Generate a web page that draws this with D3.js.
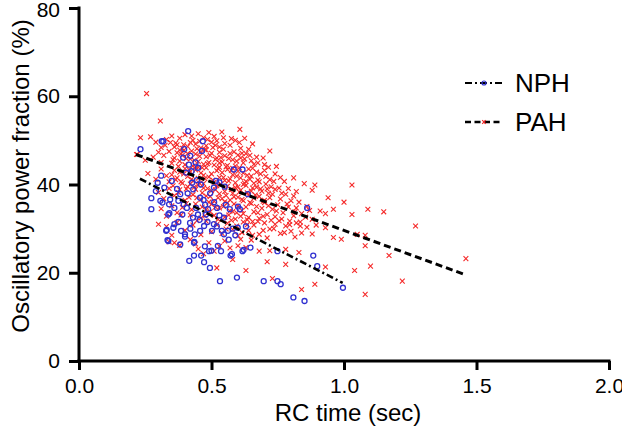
<!DOCTYPE html>
<html><head><meta charset="utf-8">
<script src="https://cdn.jsdelivr.net/npm/d3@7"></script>
<style>body{margin:0;background:#fff}svg{display:block}text{font-family:"Liberation Sans",Arial,sans-serif}</style>
</head><body><div id="chart"></div>
<script>
const xTicks=[0,0.5,1.0,1.5,2.0];
const yTicks=[0,20,40,60,80];
const seriesNames=["NPH","PAH"];
const nphFit=[[0.23,41.3],[0.995,17.7]];
const pahFit=[[0.215,46.8],[1.46,19.5]];
const nphPoints=[[0.232,48.0],[0.312,49.8],[0.318,49.8],[0.412,52.1],[0.273,36.9],[0.273,34.4],[0.297,40.4],[0.307,36.3],[0.315,35.9],[0.322,39.3],[0.329,29.5],[0.337,27.2],[0.334,27.4],[0.337,33.2],[0.344,36.6],[0.356,30.2],[0.36,34.7],[0.375,36.3],[0.382,37.8],[0.382,26.4],[0.39,33.2],[0.393,46.1],[0.397,48.0],[0.40,28.7],[0.404,42.7],[0.407,34.7],[0.416,22.7],[0.419,31.3],[0.427,40.4],[0.431,38.9],[0.434,23.9],[0.434,26.8],[0.437,28.7],[0.442,34.7],[0.449,33.2],[0.449,43.8],[0.457,37.0],[0.457,29.5],[0.461,23.9],[0.464,47.6],[0.467,49.8],[0.472,22.4],[0.472,30.6],[0.476,35.4],[0.479,33.2],[0.487,34.4],[0.491,24.9],[0.494,21.1],[0.502,29.5],[0.509,39.3],[0.509,31.0],[0.517,40.8],[0.521,34.7],[0.524,26.1],[0.532,18.1],[0.536,24.9],[0.539,29.5],[0.547,28.7],[0.547,32.5],[0.554,35.4],[0.562,29.5],[0.569,34.4],[0.572,23.9],[0.584,43.4],[0.596,18.9],[0.599,30.2],[0.607,34.4],[0.617,43.4],[0.617,24.9],[0.637,37.8],[0.647,25.7],[0.697,18.1],[0.749,18.1],[0.761,17.4],[0.749,24.9],[0.809,14.4],[0.851,13.6],[0.861,34.7],[0.884,23.9],[0.899,21.5],[0.996,16.6],[0.341,33.5],[0.331,29.7],[0.435,27.0],[0.40,28.2],[0.577,24.2],[0.621,25.2],[0.36,31.0],[0.375,31.5],[0.395,35.5],[0.41,38.0],[0.415,44.5],[0.42,46.5],[0.445,41.0],[0.455,32.0],[0.47,36.5],[0.485,31.5],[0.495,38.0],[0.51,36.0],[0.52,30.5],[0.53,33.0],[0.55,39.5],[0.565,27.5],[0.58,30.0],[0.59,28.5],[0.37,39.0],[0.385,29.5],[0.43,32.5],[0.46,40.0],[0.475,26.0],[0.53,40.5],[0.35,40.8],[0.31,42.0],[0.29,38.5],[0.425,43.0],[0.44,45.0],[0.6,35.0],[0.63,30.5],[0.5,25.0],[0.42,30.0],[0.34,35.5]];
const pahPoints=[[0.27,50.8],[0.29,49.6],[0.31,48.4],[0.33,50.2],[0.35,51.0],[0.37,49.0],[0.38,50.5],[0.40,51.3],[0.41,48.6],[0.43,50.0],[0.44,49.2],[0.45,51.5],[0.47,50.6],[0.48,48.8],[0.50,49.6],[0.51,50.9],[0.53,48.5],[0.55,49.3],[0.57,48.9],[0.59,50.0],[0.61,48.2],[0.64,48.0],[0.36,48.5],[0.42,49.5],[0.46,48.3],[0.52,49.9],[0.49,51.8],[0.39,48.2],
[0.22,46.8],[0.25,45.5],[0.28,46.2],[0.30,47.3],[0.31,45.0],[0.32,46.6],[0.34,47.5],[0.35,44.8],[0.36,46.0],[0.37,47.2],[0.38,45.3],[0.39,46.6],[0.40,44.5],[0.41,47.0],[0.42,45.8],[0.43,44.2],[0.44,46.9],[0.45,45.2],[0.46,47.4],[0.47,44.6],[0.48,46.3],[0.49,45.0],[0.50,47.1],[0.51,44.4],[0.52,46.0],[0.53,47.3],[0.54,45.1],[0.55,46.5],[0.56,44.3],[0.57,47.0],[0.58,45.6],[0.60,46.7],[0.62,44.9],[0.63,47.0],[0.65,45.4],[0.67,46.2],[0.70,44.5],[0.72,47.6],[0.38,47.8],[0.44,44.0],[0.48,47.8],[0.53,44.9],[0.59,44.2],[0.61,46.0],[0.66,44.6],
[0.26,42.5],[0.29,41.2],[0.31,43.5],[0.33,42.0],[0.34,40.6],[0.36,43.2],[0.37,41.5],[0.38,42.8],[0.39,40.3],[0.40,43.6],[0.41,41.8],[0.42,42.9],[0.43,40.8],[0.44,43.3],[0.45,41.4],[0.46,42.6],[0.47,40.2],[0.48,43.8],[0.49,41.7],[0.50,42.4],[0.51,40.5],[0.52,43.1],[0.53,41.6],[0.54,42.7],[0.55,40.9],[0.56,43.4],[0.57,41.3],[0.58,42.2],[0.59,40.4],[0.60,43.0],[0.61,41.5],[0.62,42.6],[0.63,40.7],[0.64,43.5],[0.65,41.9],[0.67,42.8],[0.68,40.6],[0.70,43.2],[0.72,41.1],[0.74,42.4],[0.76,41.6],[0.81,41.5],[0.42,40.1],[0.47,42.1],[0.53,43.9],[0.58,43.7],[0.62,40.0],[0.66,40.3],[0.45,43.9],[0.35,42.2],
[0.30,38.2],[0.32,36.8],[0.34,39.1],[0.36,37.5],[0.38,38.8],[0.40,36.4],[0.41,39.5],[0.43,37.7],[0.44,38.9],[0.46,36.6],[0.47,39.2],[0.48,37.4],[0.50,38.6],[0.51,36.2],[0.52,39.7],[0.53,37.9],[0.54,36.8],[0.55,38.4],[0.56,39.6],[0.57,36.5],[0.58,38.0],[0.59,39.3],[0.60,37.1],[0.61,38.7],[0.62,36.3],[0.63,39.8],[0.64,37.6],[0.65,38.5],[0.66,36.9],[0.67,39.4],[0.68,37.3],[0.69,38.5],[0.70,36.4],[0.71,39.0],[0.73,37.8],[0.74,38.9],[0.76,36.7],[0.78,37.8],[0.80,36.3],[0.82,38.4],[0.85,40.2],[0.88,38.7],[0.89,39.9],[0.49,36.0],[0.55,36.1],[0.45,39.9],[0.60,39.5],[0.72,37.0],
[0.31,34.5],[0.33,32.8],[0.35,35.2],[0.37,33.6],[0.39,34.8],[0.42,33.1],[0.44,35.6],[0.46,32.4],[0.48,34.3],[0.50,35.5],[0.51,33.0],[0.53,34.7],[0.55,32.6],[0.56,35.8],[0.58,33.9],[0.59,32.2],[0.60,35.1],[0.62,33.4],[0.63,34.9],[0.64,32.5],[0.65,35.7],[0.66,33.8],[0.68,32.3],[0.69,34.6],[0.70,35.9],[0.71,33.2],[0.73,34.4],[0.74,32.7],[0.75,35.4],[0.77,33.6],[0.79,34.9],[0.81,32.9],[0.82,34.7],[0.84,33.4],[0.86,35.0],[0.88,32.1],[0.91,34.0],[0.93,33.4],[1.03,33.2],[1.09,34.4],[1.15,33.8],[0.57,34.0],[0.67,35.0],[0.61,32.8],
[0.33,30.5],[0.37,31.4],[0.40,29.6],[0.43,30.8],[0.46,28.6],[0.48,31.7],[0.50,29.3],[0.52,30.9],[0.54,28.9],[0.56,31.2],[0.58,29.8],[0.60,28.4],[0.62,31.5],[0.64,29.6],[0.66,30.8],[0.68,28.7],[0.70,31.3],[0.72,29.9],[0.74,31.0],[0.76,28.9],[0.78,30.6],[0.80,29.4],[0.82,31.3],[0.84,29.0],[0.86,30.3],[0.88,28.8],[0.93,30.2],[0.96,28.0],[0.99,27.6],[1.05,28.7],[1.08,28.5],[1.27,30.6],[0.30,31.0],[0.35,28.5],[0.71,27.9],
[0.34,27.0],[0.38,26.2],[0.42,27.5],[0.45,25.4],[0.49,26.8],[0.51,24.9],[0.55,27.2],[0.57,25.6],[0.60,26.1],[0.63,25.7],[0.65,27.4],[0.68,24.9],[0.72,25.0],[0.78,25.3],[0.83,24.6],[1.08,26.1],[1.17,23.9],[0.36,26.8],[0.47,24.3],[0.53,26.0],[0.61,27.6],[0.44,26.5],
[0.52,21.1],[0.73,18.7],[0.78,21.9],[0.84,16.2],[0.89,17.4],[0.93,21.3],[1.04,20.5],[1.08,15.1],[1.10,21.5],[1.22,18.1],[1.46,23.2],[0.63,20.5],[0.58,23.0],[0.71,22.5],
[0.255,60.6],[0.307,54.4],[0.232,50.6],[0.217,46.8],[0.607,52.5],[0.539,51.9],[1.03,39.9],[0.96,34.4],[0.94,37.0],[1.0,36.0],
[0.355,45.6],[0.365,49.4],[0.375,44.1],[0.385,46.9],[0.395,49.0],[0.405,45.9],[0.415,43.4],[0.425,47.6],[0.435,45.5],[0.445,48.1],[0.455,46.4],[0.465,43.8],[0.475,47.9],[0.485,44.7],[0.495,46.6],[0.505,48.4],[0.515,45.7],[0.525,43.6],[0.535,46.1],[0.545,48.0],[0.555,44.0],[0.565,45.9],[0.575,43.2],[0.585,47.4],[0.595,45.3],[0.605,43.8],[0.615,47.1],[0.625,45.8],[0.635,42.1],[0.645,46.6],[0.655,43.7],[0.675,44.9],[0.685,42.4],[0.695,46.0],[0.705,41.8],[0.715,43.9],[0.735,40.7],[0.745,44.1],
[0.355,39.7],[0.365,41.1],[0.375,38.2],[0.385,40.6],[0.395,42.4],[0.405,39.0],[0.415,37.1],[0.425,41.2],[0.435,39.4],[0.445,37.0],[0.455,40.3],[0.465,38.1],[0.475,41.3],[0.485,39.1],[0.495,37.3],[0.505,41.0],[0.515,38.8],[0.525,37.0],[0.535,40.1],[0.545,41.6],[0.555,37.5],[0.565,40.8],[0.575,38.9],[0.585,37.2],[0.595,41.9],[0.605,38.3],[0.615,36.6],[0.625,40.3],[0.635,38.1],[0.645,41.2],[0.655,39.2],[0.665,37.6],[0.675,41.0],[0.685,39.0],[0.695,36.2],[0.705,40.1],[0.715,38.0],[0.725,39.5],[0.755,39.2],[0.765,38.0],[0.775,40.7],[0.79,39.1],[0.81,37.4],[0.83,36.0],
[0.385,33.1],[0.405,35.7],[0.425,34.3],[0.445,31.8],[0.465,34.9],[0.475,32.9],[0.495,33.8],[0.515,34.9],[0.525,32.1],[0.545,35.0],[0.565,33.1],[0.585,35.6],[0.595,33.6],[0.615,34.1],[0.635,32.0],[0.645,35.9],[0.655,31.6],[0.675,33.6],[0.695,32.8],[0.715,35.2],[0.725,31.9],[0.745,34.0],[0.765,32.2],[0.785,35.6],[0.795,31.7],[0.815,33.8],[0.835,31.5],[0.855,32.6],[0.87,34.1],[0.895,30.8],
[0.555,29.9],[0.575,31.9],[0.595,30.6],[0.615,29.1],[0.635,30.9],[0.655,28.5],[0.675,31.6],[0.695,29.6],[0.735,30.0],[0.755,31.8],[0.775,29.1],[0.795,30.9],[0.815,28.1],[0.835,30.6],
[0.395,47.7],[0.425,51.0],[0.455,49.8],[0.485,50.2],[0.515,48.9],[0.545,50.6],[0.575,50.4],[0.605,49.5],[0.625,50.5],[0.655,49.2],[0.345,49.5],[0.325,48.9]];

const W=622,H=434;
const svg=d3.select("#chart").append("svg").attr("width",W).attr("height",H);
const x=d3.scaleLinear().domain([0,2]).range([79,609]);
const y=d3.scaleLinear().domain([0,80]).range([361,8]);

const red="#f52a2a", blue="#3030d0";
function cross(g,cx,cy,s,w){
  g.append("path").attr("d",`M${cx-s},${cy-s}L${cx+s},${cy+s}M${cx-s},${cy+s}L${cx+s},${cy-s}`)
   .attr("stroke",red).attr("stroke-width",w||1.1).attr("fill","none");
}
const gp=svg.append("g");
pahPoints.forEach(d=>cross(gp,x(d[0]),y(d[1]),2.4));
svg.append("g").selectAll("circle").data(nphPoints).join("circle")
  .attr("cx",d=>x(d[0])).attr("cy",d=>y(d[1])).attr("r",2.5)
  .attr("fill","none").attr("stroke",blue).attr("stroke-width",1.3);

const line=d3.line().x(d=>x(d[0])).y(d=>y(d[1]));
svg.append("path").datum(nphFit).attr("d",line).attr("stroke","#000").attr("stroke-width",2.6)
  .attr("fill","none").attr("stroke-dasharray","7,3,2,3");
svg.append("path").datum(pahFit).attr("d",line).attr("stroke","#000").attr("stroke-width",3)
  .attr("fill","none").attr("stroke-dasharray","7,4");

// axes
const xa=svg.append("g").attr("transform","translate(0,361)")
  .call(d3.axisBottom(x).tickValues(xTicks).tickFormat(d3.format(".1f")).tickSize(9).tickSizeOuter(0).tickPadding(8));
const ya=svg.append("g").attr("transform","translate(79,0)")
  .call(d3.axisLeft(y).tickValues(yTicks).tickSize(10).tickSizeOuter(0).tickPadding(9));
[xa,ya].forEach(a=>{
  a.selectAll("path,line").attr("stroke","#000").attr("stroke-width",3);
  a.selectAll("text").attr("font-size",21).attr("fill","#000").attr("font-family","Liberation Sans, Arial, sans-serif");
});
ya.selectAll(".tick text").filter(d=>d===80).attr("dy","0.42em");
xa.select(".domain").attr("d","M77.5,0H610.5");
ya.select(".domain").attr("d","M0,6.5V362.5");

svg.append("text").attr("x",348).attr("y",421).attr("text-anchor","middle").attr("font-size",24).text("RC time (sec)");
svg.append("text").attr("transform","translate(29,176) rotate(-90)").attr("text-anchor","middle").attr("font-size",24).text("Oscillatory power fraction (%)");

// legend
const leg=[{name:seriesNames[0],y:83,dash:"7,3,2,3",sw:2.2},{name:seriesNames[1],y:122,dash:"6,3.5",sw:2.4}];
leg.forEach((l,i)=>{
  svg.append("line").attr("x1",465).attr("x2",503).attr("y1",l.y).attr("y2",l.y)
    .attr("stroke","#000").attr("stroke-width",l.sw).attr("stroke-dasharray",l.dash);
  if(i===0){
    svg.append("circle").attr("cx",484).attr("cy",l.y).attr("r",2).attr("fill","none").attr("stroke",blue).attr("stroke-width",1.2);
  } else {
    cross(svg,484,l.y,1.8,1.2);
  }
  svg.append("text").attr("x",515).attr("y",l.y+9).attr("font-size",26).text(l.name);
});
</script></body></html>
